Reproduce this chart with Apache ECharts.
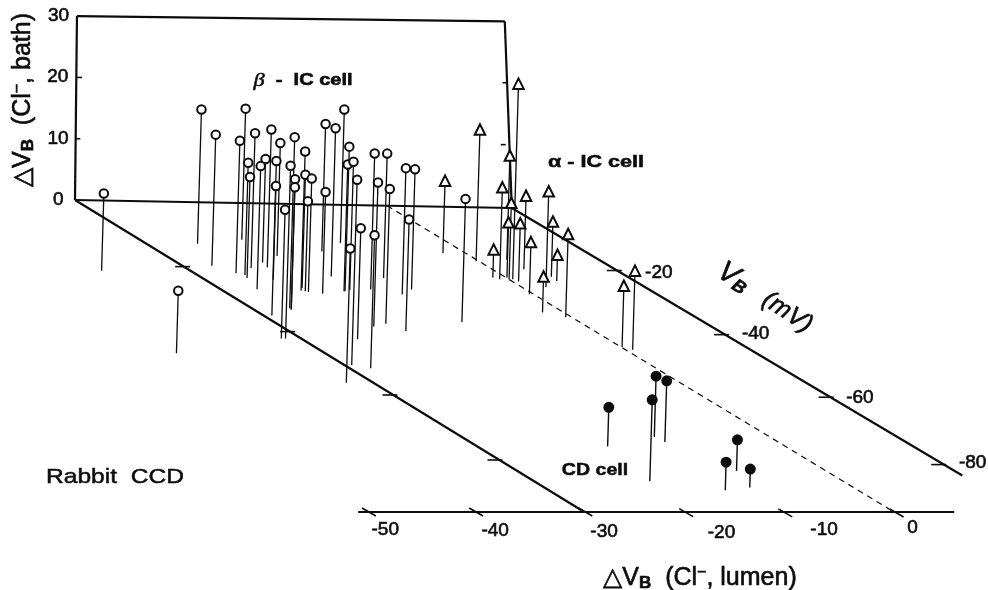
<!DOCTYPE html>
<html><head><meta charset="utf-8">
<style>html,body{margin:0;padding:0;background:#fff}#c{width:988px;height:590px}</style>
<script src="https://cdn.jsdelivr.net/npm/echarts@6/dist/echarts.min.js"></script>
</head><body><div id="c"></div>
<script>
// Values: ΔV_B lumen (mV), V_B (mV), ΔV_B bath (mV)
const betaLumen = [-38.6,-44.2,-24.9,-27.0,-25.8,-19.9,-25.2,-23.5,-25.5,-21.5,-26.3,-21.8,-29.0,-19.0,-23.2,-31.7,-31.3,-26.1,-26.2,-26.1,-22.2,-21.7,-21.7,-21.9,-13.9,-20.6,-17.0,-10.7,-18.0,-18.1,-17.3,-29.0,-24.4,-32.3,-15.2,-12.1,-20.8,-19.2,-27.7,-12.9,-11.2,-18.4,-11.5];
const betaVB    = [-22.2,-47.8,-13.2,-20.1,-22.3,-11.7,-22.8,-20.6,-23.8,-18.8,-27.3,-20.3,-35.5,-16.6,-24.2,-42.7,-42.7,-33.4,-33.6,-33.1,-27.5,-26.7,-27.9,-27.7,-15.0,-28.4,-22.9,-12.2,-27.5,-27.5,-27.0,-50.7,-42.6,-56.3,-26.8,-23.1,-38.5,-37.6,-51.7,-28.2,-26.6,-39.8,-36.7];
const betaBath  = [12.6,10.2,21.9,21.4,21.6,21.4,18.3,22.0,16.5,16.9,20.1,22.5,25.2,18.4,15.3,21.0,28.2,21.2,20.0,27.9,22.7,18.5,18.5,14.7,20.8,16.6,24.2,21.8,23.6,20.7,20.9,30.2,18.1,21.9,22.2,20.3,23.5,22.0,21.7,20.6,19.6,18.2,20.1];

const alphaLumen = [-2.2,-0.3,0.4,3.0,-0.9,0.0,0.1,0.6,3.1,-0.4,-1.3,2.4,4.6,4.4,-0.6,-2.1,0.1,0.7];
const alphaVB    = [-14.8,-17.3,-22.8,-16.6,-22.9,-22.9,-22.3,-23.5,-19.6,-27.5,-22.4,-25.1,-21.8,-23.2,-34.7,-33.3,-43.9,-44.7];
const alphaBath  = [11.8,21.5,31.9,17.0,15.0,12.5,9.0,9.5,12.0,8.5,4.6,15.6,9.0,4.3,13.6,5.9,10.0,12.9];

const cdLumen = [-17.1,-11.1,-10.9,-18.5,-8.6,-12.7,-9.9];
const cdVB    = [-75.4,-72.2,-73.8,-86.2,-82.7,-88.8,-87.8];
const cdBath  = [6.4,9.9,10.0,13.3,5.1,4.6,3.0];

const bathTicks = [0,10,20,30];
const bathLabelLumen = [-31.6,-31.8,-32,-32.1];
const vbTicks = [-20,-40,-60,-80];
const vbLeftTickAt = [-20.5,-40.5,-60,-80];
const vbRightTickAt = [-19.5,-39.5,-59,-80];
const lumenTicks = [0,-10,-20,-30,-40,-50];
const lumenTickAt = [0.1,-10.5,-19.9,-29.4,-39.8,-50];
const lumenTickVB = [-95.4,-95.7,-95.9,-96,-96.3,-96.6];
const lumenLabelAt = [-0.7,-9.5,-19.6,-30.6,-40.8,-51.1];
const lumenLabelVB = [-100,-101,-102,-102,-102,-102];
const vbLabelLumen = [15.8,15.3,15.0,15.3];
const vbLabelVB = [-20,-39,-59,-79.4];

// Oblique projection of (lumen, VB, bath) onto the flat page axes
function project(L, V, B) {
  const u = L + 30, v = -V;
  return [75 + u * (10.4 + 0.0027 * v) + 5.25 * v + 0.18 * B,
          200 + u * (0.19 - 0.001 * v) + 3.25 * v - 6.13 * B];
}
const seg = (a, b) => ({coords: [project(...a), project(...b)]});
const ink = '#0c0c0c';
const FONT = '"Liberation Sans", Arial, sans-serif';

const frame = [
  seg([-30,0,0],[12,0,0]),
  seg([-30,0,0],[-30.33,0,30]),
  seg([-30.33,0,30],[10.8,0,30.4]),
  seg([10.8,0,30.4],[12,0,0]),
  seg([-30,0,0],[-29.5,-96,0]),
  seg([12,0,0],[12.3,-83.4,0]),
  seg([-51,-96.6,0],[5.7,-95,0])
];
const dashed = [seg([0,0,0],[0,-95,0])];
const stems = (Ls,Vs,Bs) => Ls.map((l,i)=>seg([l,Vs[i],0],[l,Vs[i],Bs[i]]));
const tops = (Ls,Vs,Bs) => Ls.map((l,i)=>project(l,Vs[i],Bs[i]));

function tickSeries(data, size, rotate){
  return {type:'scatter',data,symbol:'rect',symbolSize:size,symbolRotate:rotate||0,
    itemStyle:{color:ink,opacity:1},silent:true,animation:false};
}
function labelSeries(points, texts){
  return {type:'scatter',symbolSize:0,silent:true,animation:false,z:10,itemStyle:{opacity:1},
    data:points.map((p,i)=>({value:p,itemStyle:{opacity:1},label:{show:true,position:'inside',formatter:String(texts[i]),
      color:ink,opacity:1,fontFamily:FONT,fontSize:19,align:'center',verticalAlign:'middle',
      textBorderColor:ink,textBorderWidth:0.6}}))};
}
function marks(symbol,size,data,fill){
  return {type:'scatter',data,symbol,symbolSize:size,silent:true,animation:false,
    itemStyle:{color:fill,borderColor:ink,borderWidth:2,opacity:1}};
}
const lineSeries=(data,width,type)=>({type:'lines',coordinateSystem:'cartesian2d',polyline:false,data,silent:true,animation:false,
  lineStyle:{color:ink,width,type:type||'solid',opacity:1,curveness:0}});

const chart = echarts.init(document.getElementById('c'),null,{renderer:'canvas'});
const heavy = {fill:ink,color:ink,stroke:ink,lineWidth:0.6};
const rich = {
  a:{font:'25px '+FONT,...heavy},
  b:{font:'bold 17px '+FONT,...heavy,verticalAlign:'bottom',padding:[10,0,0,0]},
  c:{font:'16px '+FONT,...heavy,verticalAlign:'top',padding:[0,0,10,0]}
};
const txt=(x,y,text,font,opt)=>Object.assign({type:'text',x,y,silent:true,z:50,
  style:{text,fill:ink,stroke:ink,lineWidth:(opt&&opt.lw)||0.5,font:font+' '+FONT,align:'center',verticalAlign:'middle',rich:opt&&opt.rich}},
  opt&&opt.el);
chart.setOption({
  animation:false,backgroundColor:'#fff',
  grid:{left:0,right:0,top:0,bottom:0},
  xAxis:{type:'value',min:0,max:988,show:false},
  yAxis:{type:'value',min:0,max:590,inverse:true,show:false},
  series:[
    lineSeries(frame,2.2),
    lineSeries(dashed,1.2,[6,5]),
    tickSeries(vbLeftTickAt.map(v=>project(-30,v,0)),[15,1.6]),
    tickSeries(vbRightTickAt.map(v=>project(11.8,v,0)),[15,1.6]),
    tickSeries(lumenTickAt.map((l,i)=>project(l,lumenTickVB[i],0)),[16,1.7],-30),
    tickSeries([project(-29.9,0,10),project(-29.9,0,20),project(11,0,10.3),project(11,0,20.4)],[5,1.6]),
    lineSeries(stems(betaLumen,betaVB,betaBath),1.3),
    lineSeries(stems(alphaLumen,alphaVB,alphaBath),1.3),
    lineSeries(stems(cdLumen,cdVB,cdBath),1.4),
    marks('circle',8.5,tops(betaLumen,betaVB,betaBath),'#fff'),
    marks('triangle',10.5,tops(alphaLumen,alphaVB,alphaBath),'#fff'),
    marks('circle',9,tops(cdLumen,cdVB,cdBath),ink),
    labelSeries(bathTicks.map((b,i)=>project(bathLabelLumen[i],0,b)),bathTicks),
    labelSeries(vbTicks.map((v,i)=>project(vbLabelLumen[i],vbLabelVB[i],0)),vbTicks),
    labelSeries(lumenTicks.map((l,i)=>project(lumenLabelAt[i],lumenLabelVB[i],0)),lumenTicks)
  ],
  graphic:[
    txt(115,477,'Rabbit  CCD','21px',{el:{scaleX:1.17}}),
    txt(595,470,'CD cell','bold 17px',{el:{scaleX:1.15}}),
    txt(596,163,'α - IC cell','bold 16px',{el:{scaleX:1.35}}),
    txt(303,81,'{g|β}{t|  -  IC cell}','bold 16px',{el:{scaleX:1.25},rich:{
      g:{font:'italic 18px "Liberation Serif"',fill:ink,color:ink},
      t:{font:'bold 16px '+FONT,...heavy}}}),
    txt(23,100,'{a|△V}{b|B}{a|  (Cl}{c|−}{a|, bath)}','25px',{el:{rotation:Math.PI/2},rich}),
    txt(700,578,'{a|△V}{b|B}{a|  (Cl}{c|−}{a|, lumen)}','25px',{rich}),
    txt(765,298,'{v|V}{s|B}{a|   (mV)}','italic 26px',{el:{rotation:-33*Math.PI/180},rich:{
      v:{font:'italic 29px '+FONT,...heavy},
      s:{font:'italic bold 18px '+FONT,...heavy,verticalAlign:'bottom',padding:[10,0,0,0]},
      a:{font:'italic 25px '+FONT,...heavy}}})
  ]
});
</script></body></html>
